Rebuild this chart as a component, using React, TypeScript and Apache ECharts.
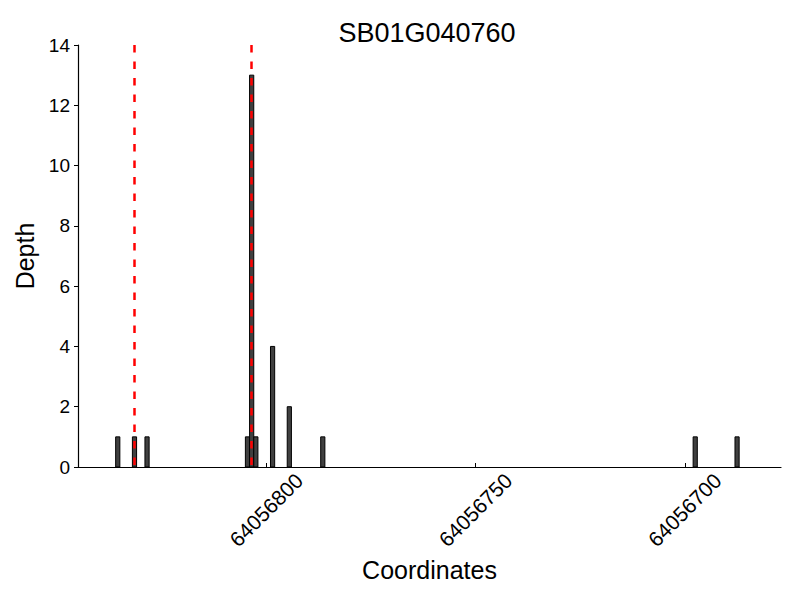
import React, { useEffect, useRef } from "react";
import * as echarts from "echarts";

const title = "SB01G040760";
const xName = "Coordinates";
const yName = "Depth";
// histogram bins (left edge coordinate) and their depths
const binStarts = [64056835, 64056831, 64056828, 64056804, 64056803, 64056802, 64056798, 64056794, 64056786, 64056697, 64056687];
const depths = [1, 1, 1, 1, 13, 1, 4, 2, 1, 1, 1];
const xTicks = [64056700, 64056750, 64056800];
const vLines = [64056831.5, 64056803.5];
const xMin = 64056677;
const xMax = 64056845;

export default function App() {
  const ref = useRef<HTMLDivElement>(null);
  useEffect(() => {
    if (!ref.current) return;
    const chart = echarts.init(ref.current, null, { renderer: "svg" });
    const font = "Liberation Sans";
    const barData = binStarts.map((s, i) => [s, depths[i]]);
    chart.setOption({
      animation: false,
      backgroundColor: "#ffffff",
      title: {
        text: title,
        left: 422,
        textAlign: "center",
        top: 14,
        textStyle: { fontFamily: font, fontSize: 27, fontWeight: "normal", color: "#000" },
      },
      grid: { left: 78, right: 19, top: 45, bottom: 133 },
      xAxis: {
        type: "value",
        inverse: true,
        min: xMin,
        max: xMax,
        name: xName,
        nameLocation: "middle",
        nameGap: 88,
        nameTextStyle: { fontFamily: font, fontSize: 25, color: "#000" },
        axisLine: { show: true, onZero: false, lineStyle: { color: "#000", width: 1.2 } },
        axisTick: { show: true, inside: true, length: 4, customValues: xTicks, lineStyle: { color: "#000" } },
        axisLabel: {
          customValues: xTicks,
          formatter: (v: number) => String(v),
          rotate: 45,
          align: "center",
          verticalAlign: "middle",
          margin: 43,
          fontFamily: font,
          fontSize: 21,
          color: "#000",
        },
        splitLine: { show: false },
      },
      yAxis: {
        type: "value",
        min: 0,
        max: 14,
        interval: 2,
        name: yName,
        nameLocation: "middle",
        nameGap: 41,
        nameTextStyle: { fontFamily: font, fontSize: 25, color: "#000" },
        axisLine: { show: true, lineStyle: { color: "#000", width: 1.2 } },
        axisTick: { show: true, length: 4, lineStyle: { color: "#000" } },
        axisLabel: { margin: 8, fontFamily: font, fontSize: 19, color: "#000" },
        splitLine: { show: false },
      },
      series: [
        {
          type: "custom",
          data: barData,
          renderItem: (params: any, api: any) => {
            const x0 = api.value(0);
            const y = api.value(1);
            const p1 = api.coord([x0, y]);
            const p2 = api.coord([x0 + 1, 0]);
            const left = Math.min(p1[0], p2[0]);
            const w = Math.abs(p2[0] - p1[0]);
            return {
              type: "rect",
              shape: { x: left, y: p1[1], width: w, height: p2[1] - p1[1] },
              style: { fill: "#404040", stroke: "#000", lineWidth: 1 },
            };
          },
          z: 2,
        },
        {
          type: "line",
          data: [],
          markLine: {
            silent: true,
            symbol: "none",
            label: { show: false },
            lineStyle: { color: "#ff0000", type: [7.5, 9], width: 2.5 },
            data: vLines.map((v) => [{ coord: [v, 14] }, { coord: [v, 0] }]),
          },
          z: 5,
        },
      ],
    });
    return () => chart.dispose();
  }, []);
  return <div ref={ref} style={{ position: "absolute", left: 0, top: 0, width: 800, height: 600 }} />;
}
